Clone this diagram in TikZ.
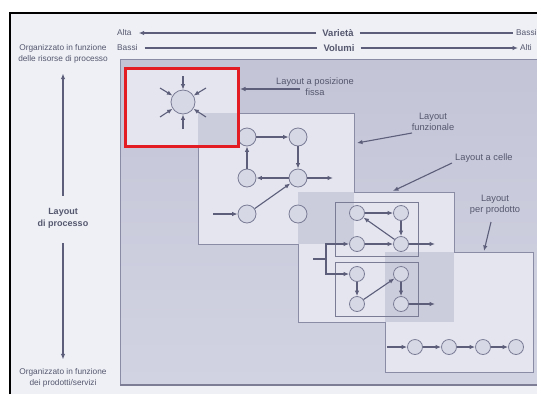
\documentclass[tikz,border=0pt]{standalone}
\usepackage{fontspec}
\setmainfont{Liberation Sans}
\usetikzlibrary{arrows.meta}
\definecolor{frameinner}{HTML}{EEF0F6}
\definecolor{bgtop}{HTML}{C3C4D6}
\definecolor{bgbot}{HTML}{D2D3E2}
\definecolor{panel}{HTML}{E4E5EF}
\definecolor{overlap}{HTML}{CCCDDC}
\definecolor{pedge}{HTML}{8A8CA6}
\definecolor{ln}{HTML}{5C5E7A}
\definecolor{txt}{HTML}{55576E}
\definecolor{cfill}{HTML}{D7D8E5}
\definecolor{cedge}{HTML}{7A7C96}
\definecolor{redbox}{HTML}{E31B23}
\begin{document}
\begin{tikzpicture}[x=1pt,y=-1pt,
  lbl/.style={font=\fontsize{8.3}{11}\selectfont, text=txt, align=center, inner sep=0pt},
  plbl/.style={font=\fontsize{9.3}{11}\selectfont, text=txt, align=center, inner sep=0pt},
  blbl/.style={font=\fontsize{9.5}{12}\selectfont\bfseries, text=txt, align=center, inner sep=0pt},
  conn/.style={draw=ln, line width=1.1pt, -{Latex[length=5.5pt,width=4.5pt]}},
  plain/.style={draw=ln, line width=1.1pt},
  nd/.style={circle, draw=cedge, fill=cfill, line width=0.8pt, minimum size=18pt, inner sep=0pt},
  sm/.style={nd, minimum size=15pt},
  big/.style={nd, minimum size=24pt},
  cellbox/.style={draw=cedge, line width=0.8pt}
]
\useasboundingbox (0,0) rectangle (537,394);
\fill[white] (0,0) rectangle (537,394);
\fill[frameinner] (10,13) rectangle (537,394);
\draw[black, line width=2pt] (10,394) -- (10,13) -- (537,13);

% grey background
\shade[top color=bgtop, bottom color=bgbot] (120,59) rectangle (537,385);
\draw[pedge, line width=0.6pt] (537,59) -- (120,59) -- (120,385);
\draw[ln!80, line width=1.5pt] (120,385) -- (537,385);

% panels
\fill[panel] (125,68) rectangle (238,146);
\fill[panel] (198,113) rectangle (354,244);
\fill[panel] (298,192) rectangle (454,322);
\fill[panel] (385,252) rectangle (533,372);
\fill[overlap] (198,113) rectangle (238,146);
\fill[overlap] (298,192) rectangle (354,244);
\fill[overlap] (385,252) rectangle (454,322);
\draw[pedge, line width=0.8pt] (238,113) -- (354,113) -- (354,192) -- (454,192) -- (454,252)
  -- (533,252) -- (533,372) -- (385,372) -- (385,322) -- (298,322) -- (298,244) -- (198,244) -- (198,146);

% top axes
\node[lbl, anchor=west] (alta) at (117,33) {Alta};
\node[lbl, anchor=west] (bassiL) at (117,48) {Bassi};
\node[blbl] (varieta) at (338,33) {Varietà};
\node[blbl] (volumi) at (339,48) {Volumi};
\node[lbl, anchor=west] (bassiR) at (516,33) {Bassi};
\node[lbl, anchor=west] (alti) at (520,48) {Alti};
\draw[conn, shorten <=6pt, shorten >=7pt] (varieta.west) -- (alta.east);
\draw[plain, shorten <=6pt, shorten >=3pt] (varieta.east) -- (bassiR.west);
\draw[plain, shorten <=7pt, shorten >=6pt] (bassiL.east) -- (volumi.west);
\draw[conn, shorten <=6pt, shorten >=2pt] (volumi.east) -- (alti.west);

% left axis
\node[lbl] (orgTop) at (63,54) {Organizzato in funzione\\delle risorse di processo};
\node[blbl, font=\fontsize{9}{12}\selectfont\bfseries] (lproc) at (63,218) {Layout\\di processo};
\node[lbl] (orgBot) at (63,378) {Organizzato in funzione\\dei prodotti/servizi};
\draw[conn, shorten <=12pt, shorten >=10pt] (lproc.north) -- (orgTop.south);
\draw[conn, shorten <=15pt, shorten >=9pt] (lproc.south) -- (orgBot.north);

% fixed position
\node[big] (c0) at (183,102) {};
\coordinate (k1) at (183,76);
\coordinate (k2) at (183,129);
\coordinate (k3) at (160,88);
\coordinate (k4) at (206,88);
\coordinate (k5) at (160,117);
\coordinate (k6) at (206,117);
\foreach \k in {k1,k2,k3,k4,k5,k6} \draw[conn] (\k) -- (c0);

% functional
\node[nd] (fA) at (247,137) {};
\node[nd] (fB) at (298,137) {};
\node[nd] (fC) at (247,178) {};
\node[nd] (fD) at (298,178) {};
\node[nd] (fE) at (247,214) {};
\node[nd] (fF) at (298,214) {};
\coordinate (fin) at (213,214);
\coordinate (fout) at (333,178);
\draw[conn] (fA) -- (fB);
\draw[conn] (fB) -- (fD);
\draw[conn] (fD) -- (fC);
\draw[conn] (fC) -- (fA);
\draw[conn] (fE) -- (fD);
\draw[conn] (fin) -- (fE);
\draw[conn] (fD) -- (fout);

% cells
\draw[cellbox] (335,202) rectangle (418,256);
\draw[cellbox] (335,262) rectangle (418,316);
\node[sm] (g1) at (357,213) {};
\node[sm] (g2) at (401,213) {};
\node[sm] (g3) at (357,244) {};
\node[sm] (g4) at (401,244) {};
\node[sm] (g5) at (357,274) {};
\node[sm] (g6) at (401,274) {};
\node[sm] (g7) at (357,304) {};
\node[sm] (g8) at (401,304) {};
\coordinate (cin) at (313,259);
\coordinate (cj) at (326,259);
\coordinate (gout1) at (435,244);
\coordinate (gout2) at (435,304);
\draw[conn] (g1) -- (g2);
\draw[conn] (g2) -- (g4);
\draw[conn] (g4) -- (g1);
\draw[conn] (g3) -- (g4);
\draw[conn] (g4) -- (gout1);
\draw[conn] (g5) -- (g7);
\draw[conn] (g7) -- (g6);
\draw[conn] (g6) -- (g8);
\draw[conn] (g8) -- (gout2);
\draw[plain] (cin) -- (cj);
\draw[conn] (cj) |- (g3);
\draw[conn] (cj) |- (g5);

% product
\node[sm] (p1) at (415,347) {};
\node[sm] (p2) at (449,347) {};
\node[sm] (p3) at (483,347) {};
\node[sm] (p4) at (516,347) {};
\coordinate (pin) at (387,347);
\draw[conn] (pin) -- (p1);
\draw[conn] (p1) -- (p2);
\draw[conn] (p2) -- (p3);
\draw[conn] (p3) -- (p4);

% panel labels
\node[plbl] (lfix) at (315,87) {Layout a posizione\\fissa};
\coordinate (afix1) at (300,89);
\coordinate (afix2) at (240,89);
\draw[conn] (afix1) -- (afix2);
\node[plbl] (lfun) at (433,122) {Layout\\funzionale};
\coordinate (afun1) at (412,133);
\coordinate (afun2) at (357,143);
\draw[conn] (afun1) -- (afun2);
\node[plbl, anchor=west] (lcel) at (455,158) {Layout a celle};
\coordinate (acel1) at (452,163);
\coordinate (acel2) at (393,191);
\draw[conn] (acel1) -- (acel2);
\node[plbl] (lpro) at (495,205) {Layout\\per prodotto};
\coordinate (apro1) at (491,222);
\coordinate (apro2) at (484,251);
\draw[conn] (apro1) -- (apro2);

% red box
\draw[redbox, line width=3pt] (125,68) rectangle (238,146);
\end{tikzpicture}
\end{document}
